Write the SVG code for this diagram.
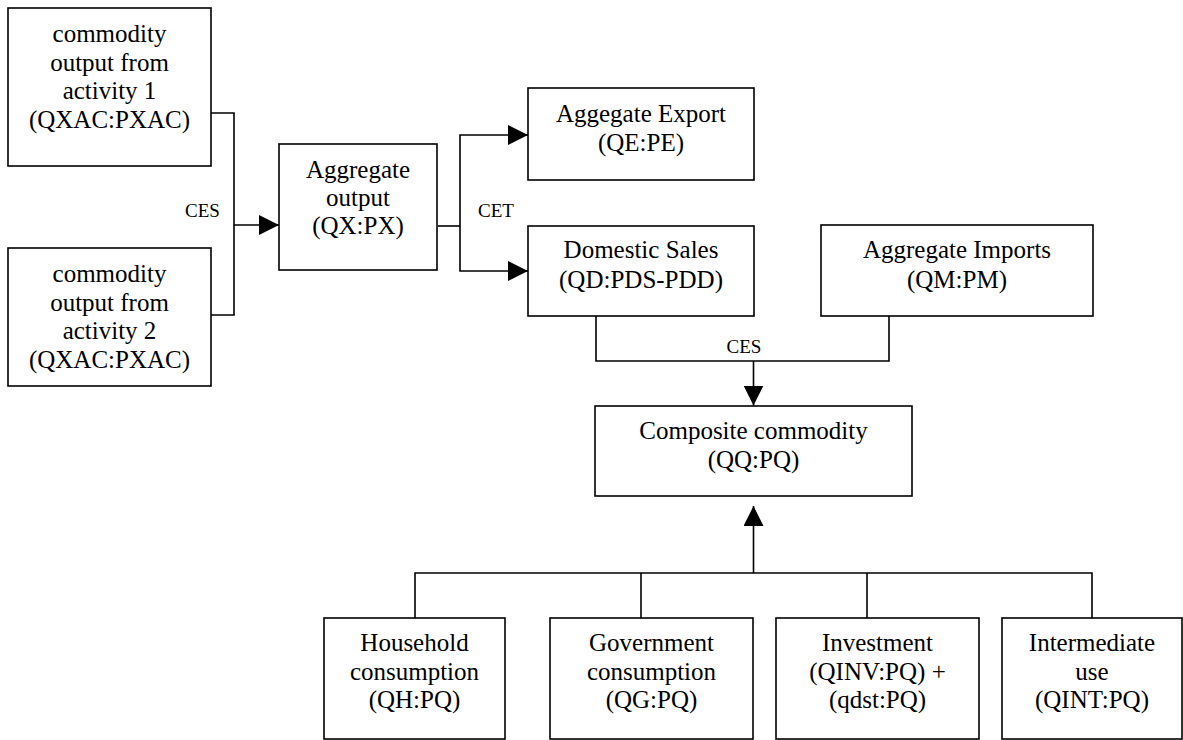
<svg xmlns="http://www.w3.org/2000/svg" width="1183" height="740" viewBox="0 0 1183 740">
<style>
.box{fill:#fff;stroke:#000;stroke-width:1.6}
.t{font-family:"Liberation Serif","Times New Roman",serif;font-size:25px;fill:#000;text-anchor:middle}
.lbl{font-family:"Liberation Serif","Times New Roman",serif;font-size:19px;fill:#000;text-anchor:middle}
.c{fill:none;stroke:#000;stroke-width:1.6}
</style>
<defs>
<marker id="arr" markerUnits="userSpaceOnUse" markerWidth="20" markerHeight="20" refX="20" refY="10" orient="auto" viewBox="0 0 20 20">
<path d="M0,0 L20,10 L0,20 z" fill="#000"/>
</marker>
</defs>
<rect width="1183" height="740" fill="#fff"/>
<g id="connectors">
<path class="c" d="M211,113 H234 V315 H211"/>
<path class="c" d="M234,225 H279" marker-end="url(#arr)"/>
<path class="c" d="M438,226 H460"/>
<path class="c" d="M460,226 V135 H528" marker-end="url(#arr)"/>
<path class="c" d="M460,226 V271 H528" marker-end="url(#arr)"/>
<path class="c" d="M596,316 V361 H889 V316"/>
<path class="c" d="M753.5,361 V405.5" marker-end="url(#arr)"/>
<path class="c" d="M753.5,573 V506" marker-end="url(#arr)"/>
<path class="c" d="M415,618 V573 H1092 V618"/>
<path class="c" d="M641,573 V618"/>
<path class="c" d="M867,573 V618"/>
<text class="lbl" x="202.5" y="217">CES</text>
<text class="lbl" x="496" y="217">CET</text>
<text class="lbl" x="744" y="353">CES</text>
</g>
<g id="activity1">
<rect class="box" x="8" y="8" width="203" height="158"/>
<text class="t" x="109.5" y="42">commodity</text>
<text class="t" x="109.5" y="70.5">output from</text>
<text class="t" x="109.5" y="99">activity 1</text>
<text class="t" x="109.5" y="127.5">(QXAC:PXAC)</text>
</g>
<g id="activity2">
<rect class="box" x="8" y="248" width="203" height="138"/>
<text class="t" x="109.5" y="282">commodity</text>
<text class="t" x="109.5" y="310.5">output from</text>
<text class="t" x="109.5" y="339">activity 2</text>
<text class="t" x="109.5" y="367.5">(QXAC:PXAC)</text>
</g>
<g id="aggregate-output">
<rect class="box" x="279" y="144" width="158" height="126"/>
<text class="t" x="358" y="178">Aggregate</text>
<text class="t" x="358" y="206">output</text>
<text class="t" x="358" y="234">(QX:PX)</text>
</g>
<g id="export">
<rect class="box" x="528" y="88" width="226" height="92"/>
<text class="t" x="641" y="122">Aggegate Export</text>
<text class="t" x="641" y="151">(QE:PE)</text>
</g>
<g id="domestic">
<rect class="box" x="528" y="226" width="226" height="90"/>
<text class="t" x="641" y="258">Domestic Sales</text>
<text class="t" x="641" y="287.5">(QD:PDS-PDD)</text>
</g>
<g id="imports">
<rect class="box" x="821" y="225" width="272" height="91"/>
<text class="t" x="957" y="258">Aggregate Imports</text>
<text class="t" x="957" y="287.5">(QM:PM)</text>
</g>
<g id="composite">
<rect class="box" x="595" y="406" width="317" height="90"/>
<text class="t" x="753.5" y="439">Composite commodity</text>
<text class="t" x="753.5" y="468">(QQ:PQ)</text>
</g>
<g id="household">
<rect class="box" x="324" y="618" width="181" height="121"/>
<text class="t" x="414.5" y="651">Household</text>
<text class="t" x="414.5" y="679.5">consumption</text>
<text class="t" x="414.5" y="708">(QH:PQ)</text>
</g>
<g id="government">
<rect class="box" x="550" y="618" width="203" height="121"/>
<text class="t" x="651.5" y="651">Government</text>
<text class="t" x="651.5" y="679.5">consumption</text>
<text class="t" x="651.5" y="708">(QG:PQ)</text>
</g>
<g id="investment">
<rect class="box" x="776" y="618" width="203" height="121"/>
<text class="t" x="877.5" y="651">Investment</text>
<text class="t" x="877.5" y="679.5">(QINV:PQ) +</text>
<text class="t" x="877.5" y="708">(qdst:PQ)</text>
</g>
<g id="intermediate">
<rect class="box" x="1002" y="618" width="180" height="121"/>
<text class="t" x="1092" y="651">Intermediate</text>
<text class="t" x="1092" y="679.5">use</text>
<text class="t" x="1092" y="708">(QINT:PQ)</text>
</g>
</svg>
